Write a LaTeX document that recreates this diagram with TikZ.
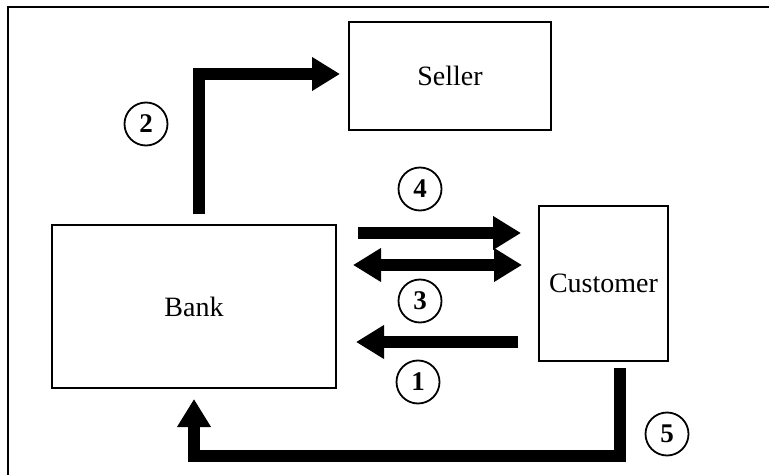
\documentclass[tikz,border=0pt]{standalone}
\usepackage{fontspec}
\setmainfont{Liberation Serif}
\usetikzlibrary{arrows.meta}
\begin{document}
\begin{tikzpicture}[x=0.5pt, y=-0.5pt,
    box/.style={draw, line width=1pt, font=\fontsize{14}{17}\selectfont},
    flow/.style={line width=6pt, line cap=butt, line join=miter, -{Triangle[length=14pt, width=16pt]}},
    num/.style={draw, circle, line width=0.9pt, minimum size=21.5pt, inner sep=0pt, font=\fontsize{13.5}{15}\selectfont\bfseries}]
    \useasboundingbox (0,0) rectangle (769,475);
    % frame
    \draw[line width=1pt] (769,7) -- (8,7) -- (8,475);

    % parties
    \node[box, minimum width=101pt, minimum height=54pt] (seller) at (450,76) {Seller};
    \node[box, minimum width=142pt, minimum height=81.5pt] (bank) at (194,306.5) {Bank};
    \node[box, minimum width=64.5pt, minimum height=77.5pt] (customer) at (603.5,283.5) {Customer};

    % steps
    \node[num] (n1) at (418,382) {1};
    \node[num] (n2) at (146,124) {2};
    \node[num] (n3) at (420,301) {3};
    \node[num] (n4) at (420,189) {4};
    \node[num] (n5) at (667,434) {5};

    % flows
    \draw[flow] ([shift={(-20,58.5)}]customer.west) -- ([shift={(19,35.5)}]bank.east);
    \draw[flow] ([shift={(5,-10)}]bank.north) |- ([shift={(-8,-2)}]seller.west);
    \draw[flow, {Triangle[length=14pt, width=16pt]}-{Triangle[length=14pt, width=16pt]}] ([shift={(16,-41.5)}]bank.east) -- ([shift={(-16,-18.5)}]customer.west);
    \draw[flow] ([shift={(21,-73.5)}]bank.east) -- ([shift={(-17,-50.5)}]customer.west);
    \draw[flow] ([shift={(16.5,6)}]customer.south) -- ++(0,88) -| ([shift={(0,10)}]bank.south);
\end{tikzpicture}
\end{document}
